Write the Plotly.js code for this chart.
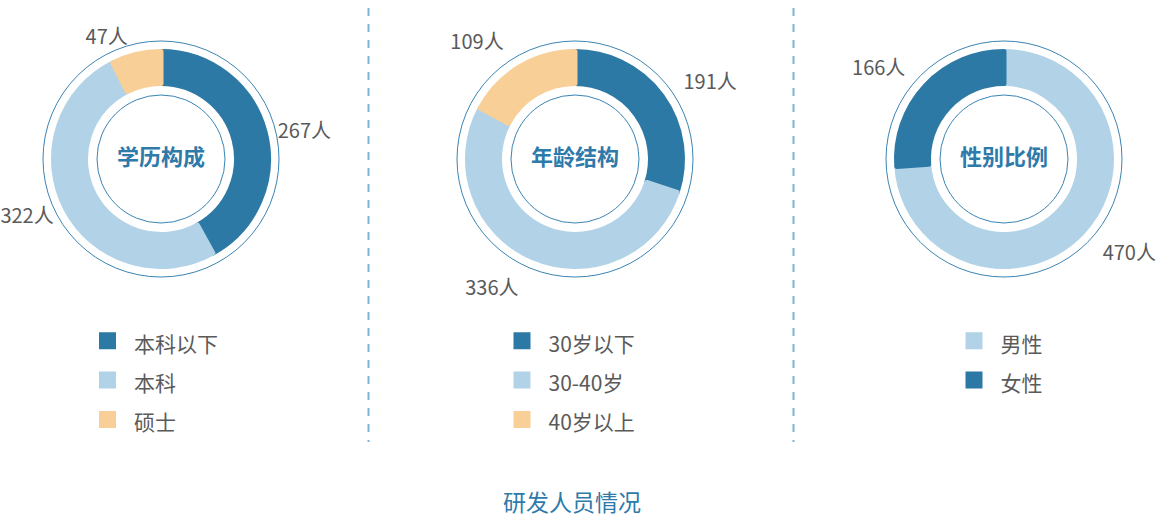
<!DOCTYPE html>
<html>
<head>
<meta charset="utf-8">
<script src="https://cdn.plot.ly/plotly-3.0.1.min.js"></script>
<style>html,body{margin:0;padding:0;background:#fff;}#chart{width:1163px;height:518px;}</style>
</head>
<body>
<div id="chart"></div>
<script>
// ---- data ----
const eduLabels = ['本科以下', '本科', '硕士'];
const eduValues = [267, 322, 47];
const ageLabels = ['30岁以下', '30-40岁', '40岁以上'];
const ageValues = [191, 336, 109];
const sexLabels = ['男性', '女性'];
const sexValues = [470, 166];
const chartTitles = ['学历构成', '年龄结构', '性别比例'];
const mainTitle = '研发人员情况';
const unit = '人';

// ---- style ----
const DARK = '#2d79a5', LIGHT = '#b2d3e7', ORANGE = '#f8cf96';
const eduColors = [DARK, LIGHT, ORANGE];
const ageColors = [DARK, LIGHT, ORANGE];
const sexColors = [LIGHT, DARK];
const FONT = '"Noto Sans CJK SC", "Noto Sans", sans-serif';
const TXT = '#5a5a5a';
const W = 1163, H = 518;
const CX = [161, 575, 1004], CY = 159;
const R_DONUT = 107.5, R_HOLE = 75.5, R_RING = 118, R_INNER = 64;
const R_LABEL = [113, 125, 125];
const LINE_W = 5;

function dom(cx, cy, r) {
  return {x: [(cx - r) / W, (cx + r) / W], y: [1 - (cy + r) / H, 1 - (cy - r) / H]};
}
function wrapLabel(s) { return '<span style="font-size:21px">' + s + '</span>'; }

const sets = [
  {labels: eduLabels, values: eduValues, colors: eduColors, legend: 'legend'},
  {labels: ageLabels, values: ageValues, colors: ageColors, legend: 'legend2'},
  {labels: sexLabels, values: sexValues, colors: sexColors, legend: 'legend3'}
];

const traces = [];
const shapes = [];
sets.forEach((s, i) => {
  traces.push({
    type: 'pie', labels: s.labels.map(wrapLabel), values: s.values,
    marker: {colors: s.colors, line: {color: s.colors, width: LINE_W}},
    hole: R_HOLE / R_DONUT, sort: false, direction: 'clockwise', rotation: 0,
    textinfo: 'none', hoverinfo: 'skip', domain: dom(CX[i], CY, R_DONUT),
    legend: s.legend, showlegend: true,
    title: {text: chartTitles[i], position: 'middle center',
            font: {family: FONT, size: 22, color: '#2e7aaa', weight: 'bold'}}
  });
  traces.push({
    type: 'pie', labels: s.labels, values: s.values,
    marker: {colors: s.labels.map(() => 'rgba(0,0,0,0)'), line: {width: 0}},
    sort: false, direction: 'clockwise', rotation: 0,
    textposition: 'outside', texttemplate: '%{value}' + unit,
    outsidetextfont: {family: FONT, size: 20, color: TXT},
    hoverinfo: 'skip', showlegend: false, domain: dom(CX[i], CY, R_LABEL[i])
  });
  [R_RING, R_INNER].forEach(r => {
    shapes.push({type: 'circle', xref: 'paper', yref: 'paper',
      x0: (CX[i] - r) / W, x1: (CX[i] + r) / W,
      y0: 1 - (CY + r) / H, y1: 1 - (CY - r) / H,
      line: {color: '#3a84b3', width: 1}});
  });
});
[368.5, 793.5].forEach(x => {
  shapes.push({type: 'line', xref: 'paper', yref: 'paper',
    x0: x / W, x1: x / W, y0: 1 - 8 / H, y1: 1 - 442 / H,
    line: {color: '#7fb3d5', width: 2, dash: '8px,8px'}});
});

function legendAt(xpx, ypx) {
  return {x: xpx / W, y: 1 - ypx / H, xanchor: 'left', yanchor: 'top',
    orientation: 'v', itemwidth: 43, bgcolor: 'rgba(0,0,0,0)', borderwidth: 0,
    font: {family: FONT, size: 28, color: TXT}, traceorder: 'normal',
    itemclick: false, itemdoubleclick: false};
}

const layout = {
  width: W, height: H, margin: {l: 0, r: 0, t: 0, b: 0},
  paper_bgcolor: '#fff', plot_bgcolor: '#fff',
  font: {family: FONT},
  title: {text: mainTitle, x: 572 / W, xanchor: 'center', y: 1 - 503 / H, yanchor: 'middle',
          font: {family: FONT, size: 23, color: '#2e7aaa'}},
  legend: legendAt(81, 316),
  legend2: legendAt(495.5, 316),
  legend3: legendAt(947.5, 316),
  shapes: shapes
};

Plotly.newPlot('chart', traces, layout, {displayModeBar: false, staticPlot: true});
</script>
</body>
</html>
